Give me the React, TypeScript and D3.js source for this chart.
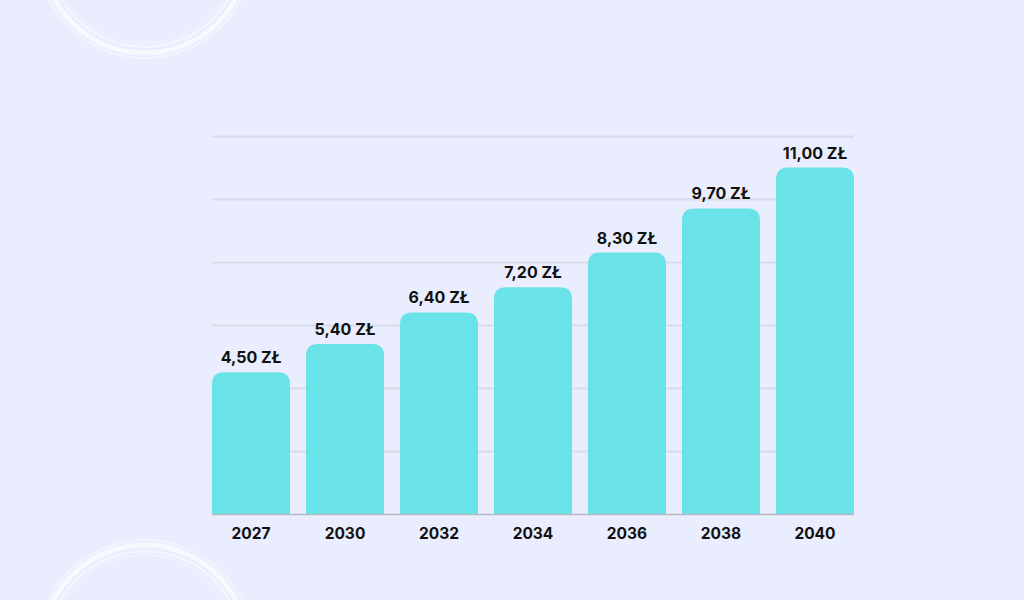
import React, { useEffect, useRef } from 'react';
import * as d3 from 'd3';

const years = ['2027', '2030', '2032', '2034', '2036', '2038', '2040'];
const prices = [4.5, 5.4, 6.4, 7.2, 8.3, 9.7, 11.0];
const gridTicks = [0, 2, 4, 6, 8, 10, 12];

const W = 1024;
const H = 600;

const App = () => {
  const svgRef = useRef<SVGSVGElement | null>(null);

  useEffect(() => {
    if (!svgRef.current) return;
    const svg = d3.select(svgRef.current);
    svg.selectAll('*').remove();

    svg.append('rect').attr('width', W).attr('height', H).attr('fill', '#eaedfd');

    // brush-like rings in the corners
    const rings = [
      { cx: 145, cy: -50 },
      { cx: 145, cy: 648 },
    ];
    rings.forEach(r => {
      [
        { rr: 103, w: 5, o: 0.9 },
        { rr: 97, w: 2.5, o: 0.7 },
        { rr: 108, w: 2, o: 0.6 },
        { rr: 93, w: 1, o: 0.5 },
      ].forEach(s => {
        svg.append('circle')
          .attr('cx', r.cx)
          .attr('cy', r.cy)
          .attr('r', s.rr)
          .attr('fill', 'none')
          .attr('stroke', '#f8f9ff')
          .attr('stroke-width', s.w)
          .attr('opacity', s.o);
      });
    });

    const margin = { top: 136, left: 212, right: 170, bottom: 86 };
    const cw = W - margin.left - margin.right;
    const ch = H - margin.top - margin.bottom;

    const g = svg.append('g').attr('transform', `translate(${margin.left},${margin.top})`);

    const x = d3.scaleBand().domain(years).range([0, cw]).paddingInner(0.17).paddingOuter(0);
    const y = d3.scaleLinear().domain([0, 12]).range([ch, 0]);

    // gridlines
    g.append('g')
      .call(d3.axisLeft(y).tickValues(gridTicks.slice(1)).tickSize(-cw).tickFormat(() => ''))
      .call(a => a.select('.domain').remove())
      .selectAll('line')
      .attr('stroke', '#d6dcea')
      .attr('stroke-width', 2);

    const r = 12;
    const barPath = (v: number, name: string) => {
      const x0 = x(name) || 0;
      const bw = x.bandwidth();
      const top = y(v);
      const bot = y(0);
      return `M${x0},${bot}V${top + r}Q${x0},${top} ${x0 + r},${top}H${x0 + bw - r}Q${x0 + bw},${top} ${x0 + bw},${top + r}V${bot}Z`;
    };

    g.selectAll('path.bar')
      .data(prices)
      .join('path')
      .attr('class', 'bar')
      .attr('d', (d, i) => barPath(d, years[i]))
      .attr('fill', '#6ae3e8');

    // baseline
    g.append('line')
      .attr('x1', 0)
      .attr('x2', cw)
      .attr('y1', y(0) + 0.5)
      .attr('y2', y(0) + 0.5)
      .attr('stroke', '#b4b8c4')
      .attr('stroke-width', 1.5);

    const fmt = (v: number) => v.toFixed(2).replace('.', ',') + ' ZŁ';

    g.selectAll('text.val')
      .data(prices)
      .join('text')
      .attr('class', 'val')
      .attr('x', (d, i) => (x(years[i]) || 0) + x.bandwidth() / 2)
      .attr('y', d => y(d) - 9)
      .attr('text-anchor', 'middle')
      .style('font-family', 'Inter, "Open Sans", sans-serif')
      .style('font-size', '16px')
      .style('font-weight', '700')
      .style('fill', '#111111')
      .text(d => fmt(d));

    g.selectAll('text.year')
      .data(years)
      .join('text')
      .attr('class', 'year')
      .attr('x', d => (x(d) || 0) + x.bandwidth() / 2)
      .attr('y', ch + 25)
      .attr('text-anchor', 'middle')
      .style('font-family', 'Inter, "Open Sans", sans-serif')
      .style('font-size', '15.5px')
      .style('font-weight', '700')
      .style('fill', '#111111')
      .text(d => d);
  }, []);

  return (
    <svg
      ref={svgRef}
      width={W}
      height={H}
      style={{ position: 'fixed', left: 0, top: 0, display: 'block' }}
    />
  );
};

export default App;
